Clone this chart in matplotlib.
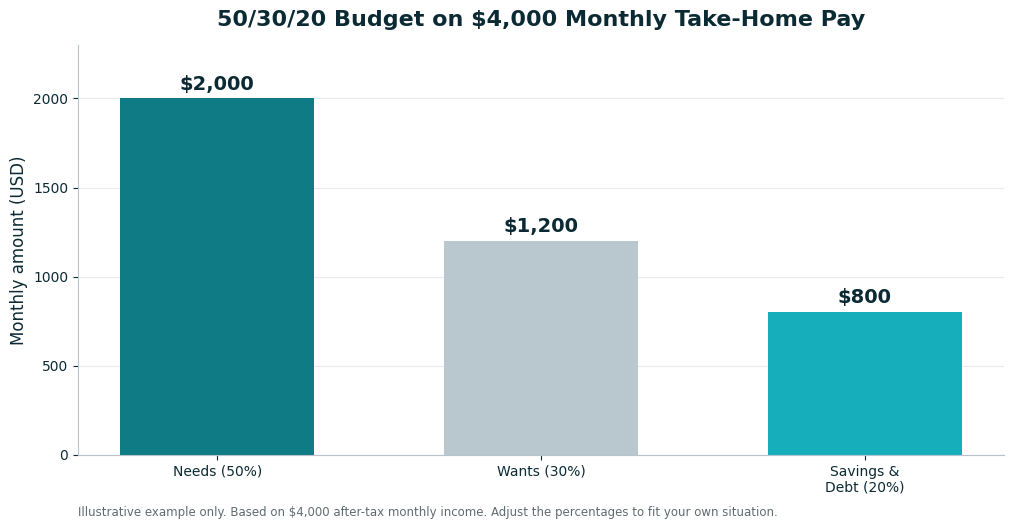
import matplotlib
matplotlib.use("Agg")
import matplotlib.pyplot as plt

# data
categories = ["Needs (50%)", "Wants (30%)", "Savings &\nDebt (20%)"]
amounts = [2000, 1200, 800]
labels = ["$2,000", "$1,200", "$800"]
colors = ["#0f7b85", "#b9c8cf", "#17aebc"]

dark = "#0b2a33"

fig, ax = plt.subplots(figsize=(10.14, 5.29), dpi=100)
fig.subplots_adjust(left=0.077, right=0.99, top=0.915, bottom=0.14)

bars = ax.bar(range(len(categories)), amounts, width=0.6, color=colors, zorder=2)
for b, lab in zip(bars, labels):
    ax.annotate(lab, (b.get_x() + b.get_width() / 2, b.get_height()),
                xytext=(0, 3.5), textcoords="offset points",
                ha="center", va="bottom", fontsize=14, fontweight="bold", color=dark)

ax.set_xticks(range(len(categories)))
ax.set_xticklabels(categories, fontsize=10, color=dark)
ax.set_ylim(0, 2300)
ax.set_yticks([0, 500, 1000, 1500, 2000])
ax.tick_params(axis="y", labelsize=10, colors=dark)
ax.tick_params(axis="x", colors=dark)
ax.set_ylabel("Monthly amount (USD)", fontsize=12, color=dark)
ax.set_title("50/30/20 Budget on $4,000 Monthly Take-Home Pay",
             fontsize=16, fontweight="bold", color=dark, pad=13.5)

ax.grid(axis="y", color="#e6ebee", linewidth=0.8, zorder=0)
ax.set_axisbelow(True)
for s in ["top", "right"]:
    ax.spines[s].set_visible(False)
for s in ["left", "bottom"]:
    ax.spines[s].set_color("#b5c4cd")

fig.text(0.077, 0.018, "Illustrative example only. Based on $4,000 after-tax monthly income. "
         "Adjust the percentages to fit your own situation.",
         fontsize=8.5, color="#5f6b72", ha="left", va="bottom")

fig.savefig("out.png", dpi=100)
